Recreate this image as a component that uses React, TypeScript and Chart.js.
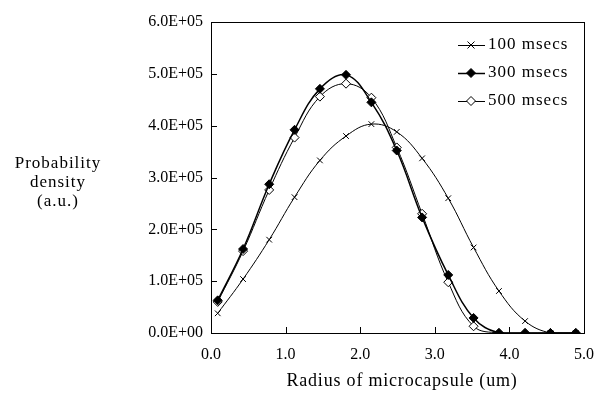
import React, { useEffect, useRef } from "react";
import { Chart, registerables } from "chart.js";

Chart.register(...registerables);

const radius = [0.09, 0.43, 0.78, 1.12, 1.46, 1.81, 2.15, 2.49, 2.83, 3.18, 3.52, 3.86, 4.21, 4.55, 4.89];
const ms100 = [38000, 104000, 180000, 262000, 333000, 380000, 403000, 388000, 337000, 260000, 165000, 81000, 23000, 0, 0];
const ms300 = [63000, 162000, 287000, 392000, 471000, 498000, 445000, 352000, 223000, 112000, 29000, 0, 0, 0, 0];
const ms500 = [60000, 158000, 276000, 377000, 456000, 481000, 454000, 358000, 230000, 98000, 13000, 0, 0, 0, 0];
const seriesLabels = ["100 msecs", "300 msecs", "500 msecs"];
const yTitleLines = ["Probability", "density", "(a.u.)"];
const xTitle = "Radius of microcapsule (um)";

const FONT = "'Liberation Serif', 'Times New Roman', serif";

function fmtExp(v: number): string {
  if (v === 0) return "0.0E+00";
  const exp = Math.floor(Math.log10(Math.abs(v)) + 1e-9);
  const mant = v / Math.pow(10, exp);
  const sign = exp < 0 ? "-" : "+";
  return mant.toFixed(1) + "E" + sign + String(Math.abs(exp)).padStart(2, "0");
}

function toPoints(ys: number[]) {
  return ys.map((y, i) => ({ x: radius[i], y }));
}

const decorPlugin = {
  id: "decor",
  afterDraw(chart: any) {
    const ctx = chart.ctx as CanvasRenderingContext2D;
    const a = chart.chartArea;
    const xs = chart.scales.x;
    const ys = chart.scales.y;
    ctx.save();
    // frame
    ctx.strokeStyle = "#000";
    ctx.lineWidth = 1;
    ctx.strokeRect(Math.round(a.left) + 0.5, Math.round(a.top) + 0.5, Math.round(a.right - a.left), Math.round(a.bottom - a.top));
    // inner ticks
    ctx.beginPath();
    ys.ticks.forEach((t: any) => {
      const py = Math.round(ys.getPixelForValue(t.value)) + 0.5;
      ctx.moveTo(a.left, py);
      ctx.lineTo(a.left + 6, py);
    });
    xs.ticks.forEach((t: any) => {
      const px = Math.round(xs.getPixelForValue(t.value)) + 0.5;
      ctx.moveTo(px, a.bottom);
      ctx.lineTo(px, a.bottom - 6);
    });
    ctx.stroke();

    // y title
    ctx.fillStyle = "#000";
    ctx.font = "17px " + FONT;
    (ctx as any).letterSpacing = "1px";
    ctx.textAlign = "center";
    ctx.textBaseline = "middle";
    yTitleLines.forEach((l, i) => ctx.fillText(l, 58, 164 + i * 19));

    // x title
    ctx.font = "18px " + FONT;
    (ctx as any).letterSpacing = "0.8px";
    ctx.fillText(xTitle, 402, 381);

    // legend
    ctx.font = "17px " + FONT;
    (ctx as any).letterSpacing = "1px";
    const rows = [45, 73, 101];
    const x0 = 458, x1 = 485, mx = 471;
    chart.data.datasets.forEach((ds: any, i: number) => {
      const y = rows[i];
      ctx.beginPath();
      ctx.strokeStyle = "#000";
      ctx.lineWidth = ds.borderWidth;
      ctx.moveTo(x0, y + 0.5);
      ctx.lineTo(x1, y + 0.5);
      ctx.stroke();
      ctx.beginPath();
      ctx.lineWidth = 1;
      if (ds.pointStyle === "crossRot") {
        const r = 3.5;
        ctx.moveTo(mx - r, y - r);
        ctx.lineTo(mx + r, y + r);
        ctx.moveTo(mx - r, y + r);
        ctx.lineTo(mx + r, y - r);
        ctx.stroke();
      } else {
        const r = 4.5;
        ctx.moveTo(mx, y - r);
        ctx.lineTo(mx + r, y);
        ctx.lineTo(mx, y + r);
        ctx.lineTo(mx - r, y);
        ctx.closePath();
        ctx.fillStyle = ds.pointBackgroundColor;
        ctx.fill();
        ctx.stroke();
      }
      ctx.fillStyle = "#000";
      ctx.textAlign = "left";
      ctx.fillText(ds.label, 488, y);
    });
    ctx.restore();
  },
};

export default function App() {
  const ref = useRef<HTMLCanvasElement | null>(null);
  useEffect(() => {
    if (!ref.current) return;
    const chart = new Chart(ref.current, {
      type: "line",
      data: {
        datasets: [
          {
            label: seriesLabels[0],
            data: toPoints(ms100),
            borderColor: "#000",
            borderWidth: 1,
            pointStyle: "crossRot",
            pointRadius: 4,
            pointBorderWidth: 1,
            pointBorderColor: "#000",
            pointBackgroundColor: "#000",
            tension: 0.4,
            fill: false,
          },
          {
            label: seriesLabels[1],
            data: toPoints(ms300),
            borderColor: "#000",
            borderWidth: 1.5,
            pointStyle: "rectRot",
            pointRadius: 4.5,
            pointBorderWidth: 1,
            pointBorderColor: "#000",
            pointBackgroundColor: "#000",
            tension: 0.4,
            fill: false,
          },
          {
            label: seriesLabels[2],
            data: toPoints(ms500),
            borderColor: "#000",
            borderWidth: 1,
            pointStyle: "rectRot",
            pointRadius: 4.5,
            pointBorderWidth: 1,
            pointBorderColor: "#000",
            pointBackgroundColor: "#fff",
            tension: 0.4,
            fill: false,
          },
        ],
      },
      options: {
        animation: false,
        responsive: true,
        maintainAspectRatio: false,
        layout: { padding: { left: 0, right: 12, top: 22, bottom: 0 } },
        plugins: { legend: { display: false }, tooltip: { enabled: false }, title: { display: false } },
        scales: {
          x: {
            type: "linear",
            min: 0,
            max: 5,
            grid: { display: false, drawTicks: false },
            border: { display: false },
            ticks: {
              stepSize: 1,
              padding: 12,
              color: "#000",
              font: { family: FONT, size: 16 },
              callback: (v: any) => Number(v).toFixed(1),
            },
            title: { display: false },
            afterFit: (s: any) => {
              s.height = 65;
            },
          },
          y: {
            min: 0,
            max: 600000,
            grid: { display: false, drawTicks: false },
            border: { display: false },
            ticks: {
              stepSize: 100000,
              padding: 8,
              color: "#000",
              font: { family: FONT, size: 16 },
              callback: (v: any) => fmtExp(Number(v)),
            },
            afterFit: (s: any) => {
              s.width = 211;
            },
          },
        },
      },
      plugins: [decorPlugin],
    });
    return () => chart.destroy();
  }, []);
  return (
    <div style={{ position: "absolute", left: 0, top: 0, width: 606, height: 398, background: "#fff" }}>
      <canvas ref={ref} />
    </div>
  );
}
